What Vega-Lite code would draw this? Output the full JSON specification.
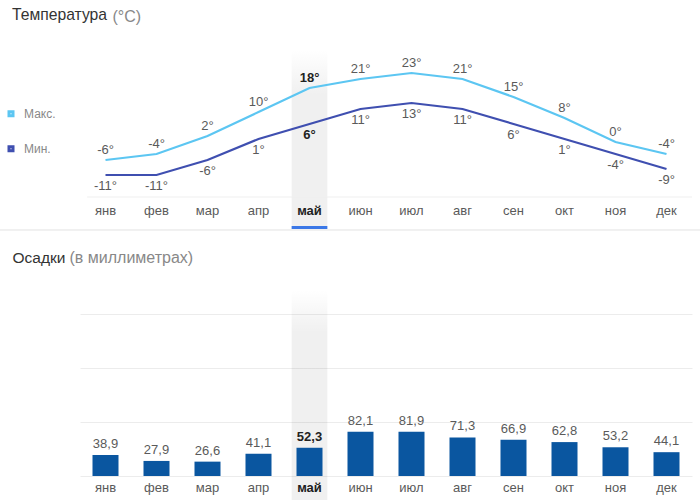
{
  "$schema": "https://vega.github.io/schema/vega-lite/v6.json",
  "width": 700,
  "height": 476,
  "padding": {"left": 0, "top": 0, "right": 0, "bottom": 24},
  "autosize": "none",
  "background": "white",
  "config": {
    "font": "Liberation Sans",
    "view": {"stroke": null},
    "locale": {"number": {"decimal": ",", "thousands": " ", "grouping": [3], "currency": ["", "°"], "minus": "-"}},
    "legend": {
      "orient": "none", "legendX": 12, "legendY": 8, "symbolOffset": -7,
      "labelFontSize": 12, "labelColor": "#888888", "rowPadding": 19, "labelOffset": 7,
      "titleFontSize": 15.7, "titleFontWeight": "normal", "titleColor": "#333333", "titlePadding": 84,
      "titleAnchor": "start", "titleBaseline": "top"
    }
  },
  "datasets": {
    "temp": [
      {"month": "янв", "series": "Макс.", "t": -6}, {"month": "янв", "series": "Мин.", "t": -11},
      {"month": "фев", "series": "Макс.", "t": -4}, {"month": "фев", "series": "Мин.", "t": -11},
      {"month": "мар", "series": "Макс.", "t": 2}, {"month": "мар", "series": "Мин.", "t": -6},
      {"month": "апр", "series": "Макс.", "t": 10}, {"month": "апр", "series": "Мин.", "t": 1},
      {"month": "май", "series": "Макс.", "t": 18}, {"month": "май", "series": "Мин.", "t": 6},
      {"month": "июн", "series": "Макс.", "t": 21}, {"month": "июн", "series": "Мин.", "t": 11},
      {"month": "июл", "series": "Макс.", "t": 23}, {"month": "июл", "series": "Мин.", "t": 13},
      {"month": "авг", "series": "Макс.", "t": 21}, {"month": "авг", "series": "Мин.", "t": 11},
      {"month": "сен", "series": "Макс.", "t": 15}, {"month": "сен", "series": "Мин.", "t": 6},
      {"month": "окт", "series": "Макс.", "t": 8}, {"month": "окт", "series": "Мин.", "t": 1},
      {"month": "ноя", "series": "Макс.", "t": 0}, {"month": "ноя", "series": "Мин.", "t": -4},
      {"month": "дек", "series": "Макс.", "t": -4}, {"month": "дек", "series": "Мин.", "t": -9}
    ],
    "precip": [
      {"month": "янв", "mm": 38.9}, {"month": "фев", "mm": 27.9}, {"month": "мар", "mm": 26.6},
      {"month": "апр", "mm": 41.1}, {"month": "май", "mm": 52.3}, {"month": "июн", "mm": 82.1},
      {"month": "июл", "mm": 81.9}, {"month": "авг", "mm": 71.3}, {"month": "сен", "mm": 66.9},
      {"month": "окт", "mm": 62.8}, {"month": "ноя", "mm": 53.2}, {"month": "дек", "mm": 44.1}
    ]
  },
  "resolve": {"scale": {"y": "independent"}, "axis": {"y": "independent"}},
  "layer": [
    {
      "layer": [
        {
          "data": {"name": "precip"},
          "transform": [{"filter": "datum.month === 'май'"}],
          "mark": {"type": "bar", "width": {"band": 0.7},
            "color": {"gradient": "linear", "x1": 0, "y1": 0, "x2": 0, "y2": 1,
              "stops": [{"offset": 0, "color": "rgba(0,0,0,0)"}, {"offset": 0.25, "color": "rgba(0,0,0,0.058)"}, {"offset": 1, "color": "rgba(0,0,0,0.058)"}]}},
          "encoding": {
            "x": {"field": "month", "type": "nominal",
              "scale": {"type": "band", "domain": ["янв","фев","мар","апр","май","июн","июл","авг","сен","окт","ноя","дек"],
                "range": [80, 692], "paddingInner": 0, "paddingOuter": 0},
              "axis": {"orient": "bottom", "title": "Осадки", "titleX": 12, "titleY": -219, "titleAlign": "left",
                "titleBaseline": "middle", "titleAngle": 0, "titleFontSize": 15.5, "titleFontWeight": "normal",
                "titleColor": "#333333", "labelAngle": 0, "labelFontSize": 13, "labelPadding": 5,
                "labelColor": {"condition": {"test": "datum.value === 'май'", "value": "#222222"}, "value": "#5a5a5a"},
                "labelFontWeight": {"condition": {"test": "datum.value === 'май'", "value": "bold"}, "value": "normal"},
                "domain": false, "ticks": false, "grid": false}},
            "y": {"datum": 30.7, "type": "quantitative",
              "scale": {"domain": [-11, 23], "range": [175, 73], "zero": false, "nice": false},
              "axis": {"orient": "right", "title": "(°C)", "titleX": -588, "titleY": 16, "titleAngle": 0,
                "titleAlign": "left", "titleBaseline": "middle", "titleFontSize": 16, "titleFontWeight": "normal",
                "titleColor": "#888888", "labels": false, "ticks": false, "domain": false, "grid": false}},
            "y2": {"datum": -29}
          }
        },
        {
          "data": {"name": "precip"},
          "transform": [{"filter": "datum.month === 'май'"}],
          "mark": {"type": "rule", "color": "#efefef", "strokeWidth": 1},
          "encoding": {
            "x": {"datum": "янв", "bandPosition": 0.14},
            "x2": {"datum": "дек", "bandPosition": 1},
            "y": {"datum": -18.33, "type": "quantitative"}
          }
        },
        {
          "data": {"name": "precip"},
          "transform": [{"filter": "datum.month === 'май'"}],
          "mark": {"type": "rule", "color": "#e2e2e2", "strokeWidth": 1},
          "encoding": {"y": {"datum": -29.33, "type": "quantitative"}}
        },
        {
          "data": {"name": "precip"},
          "transform": [{"filter": "datum.month === 'май'"}],
          "mark": {"type": "bar", "width": {"band": 0.7}, "color": "#3b78e7"},
          "encoding": {
            "x": {"field": "month", "type": "nominal"},
            "y": {"datum": -28, "type": "quantitative"},
            "y2": {"datum": -29}
          }
        },
        {
          "data": {"name": "temp"},
          "mark": {"type": "line", "strokeWidth": 2.2},
          "encoding": {
            "x": {"field": "month", "type": "nominal"},
            "y": {"field": "t", "type": "quantitative"},
            "color": {"field": "series", "type": "nominal",
              "scale": {"domain": ["Макс.", "Мин."], "range": ["#5cc6f2", "#3f4fb0"]},
              "legend": {"title": "Температура", "symbolType": "square", "symbolSize": 16, "symbolStrokeWidth": 3}}
          }
        },
        {
          "data": {"name": "temp"},
          "transform": [{"filter": "datum.series === 'Макс.' && datum.month !== 'май'"}],
          "mark": {"type": "text", "dy": -10, "fontSize": 13, "color": "#5a5a5a", "baseline": "middle"},
          "encoding": {
            "x": {"field": "month", "type": "nominal"},
            "y": {"field": "t", "type": "quantitative"},
            "text": {"field": "t", "type": "quantitative", "format": "$d"}
          }
        },
        {
          "data": {"name": "temp"},
          "transform": [{"filter": "datum.series === 'Мин.' && datum.month !== 'май'"}],
          "mark": {"type": "text", "dy": 11, "fontSize": 13, "color": "#5a5a5a", "baseline": "middle"},
          "encoding": {
            "x": {"field": "month", "type": "nominal"},
            "y": {"field": "t", "type": "quantitative"},
            "text": {"field": "t", "type": "quantitative", "format": "$d"}
          }
        },
        {
          "data": {"name": "temp"},
          "transform": [{"filter": "datum.series === 'Макс.' && datum.month === 'май'"}],
          "mark": {"type": "text", "dy": -10, "fontSize": 13, "fontWeight": "bold", "color": "#222222", "baseline": "middle"},
          "encoding": {
            "x": {"field": "month", "type": "nominal"},
            "y": {"field": "t", "type": "quantitative"},
            "text": {"field": "t", "type": "quantitative", "format": "$d"}
          }
        },
        {
          "data": {"name": "temp"},
          "transform": [{"filter": "datum.series === 'Мин.' && datum.month === 'май'"}],
          "mark": {"type": "text", "dy": 11, "fontSize": 13, "fontWeight": "bold", "color": "#222222", "baseline": "middle"},
          "encoding": {
            "x": {"field": "month", "type": "nominal"},
            "y": {"field": "t", "type": "quantitative"},
            "text": {"field": "t", "type": "quantitative", "format": "$d"}
          }
        },
        {
          "data": {"name": "precip"},
          "transform": [{"filter": "datum.month !== 'май'"}],
          "mark": {"type": "text", "fontSize": 13, "color": "#5a5a5a", "baseline": "middle"},
          "encoding": {
            "x": {"field": "month", "type": "nominal"},
            "y": {"datum": -23, "type": "quantitative"},
            "text": {"field": "month", "type": "nominal"}
          }
        },
        {
          "data": {"name": "precip"},
          "transform": [{"filter": "datum.month === 'май'"}],
          "mark": {"type": "text", "fontSize": 13, "fontWeight": "bold", "color": "#222222", "baseline": "middle"},
          "encoding": {
            "x": {"field": "month", "type": "nominal"},
            "y": {"datum": -23, "type": "quantitative"},
            "text": {"field": "month", "type": "nominal"}
          }
        }
      ]
    },
    {
      "layer": [
        {
          "data": {"name": "precip"},
          "transform": [{"filter": "datum.month === 'май'"}],
          "mark": {"type": "bar", "width": {"band": 0.7},
            "color": {"gradient": "linear", "x1": 0, "y1": 0, "x2": 0, "y2": 1,
              "stops": [{"offset": 0, "color": "rgba(0,0,0,0)"}, {"offset": 0.2, "color": "rgba(0,0,0,0.058)"}, {"offset": 1, "color": "rgba(0,0,0,0.058)"}]}},
          "encoding": {
            "x": {"field": "month", "type": "nominal"},
            "y": {"datum": 344.4, "type": "quantitative",
              "scale": {"domain": [0, 300], "range": [476, 314], "zero": true, "nice": false},
              "axis": {"orient": "left", "title": "(в миллиметрах)", "titleX": 69, "titleY": 257, "titleAngle": 0,
                "titleAlign": "left", "titleBaseline": "middle", "titleFontSize": 16, "titleFontWeight": "normal",
                "titleColor": "#888888", "labels": false, "ticks": false, "domain": false, "grid": true,
                "gridColor": "#ececec", "values": [0, 100, 200, 300]}},
            "y2": {"datum": -44.4}
          }
        },
        {
          "data": {"name": "precip"},
          "mark": {"type": "bar", "width": {"band": 0.51}, "color": "#0a56a0"},
          "encoding": {
            "x": {"field": "month", "type": "nominal"},
            "y": {"field": "mm", "type": "quantitative"}
          }
        },
        {
          "data": {"name": "precip"},
          "transform": [{"filter": "datum.month !== 'май'"}],
          "mark": {"type": "text", "dy": -11, "fontSize": 13, "color": "#5a5a5a", "baseline": "middle"},
          "encoding": {
            "x": {"field": "month", "type": "nominal"},
            "y": {"field": "mm", "type": "quantitative"},
            "text": {"field": "mm", "type": "quantitative", "format": ".1f"}
          }
        },
        {
          "data": {"name": "precip"},
          "transform": [{"filter": "datum.month === 'май'"}],
          "mark": {"type": "text", "dy": -11, "fontSize": 13, "fontWeight": "bold", "color": "#222222", "baseline": "middle"},
          "encoding": {
            "x": {"field": "month", "type": "nominal"},
            "y": {"field": "mm", "type": "quantitative"},
            "text": {"field": "mm", "type": "quantitative", "format": ".1f"}
          }
        }
      ]
    }
  ]
}
